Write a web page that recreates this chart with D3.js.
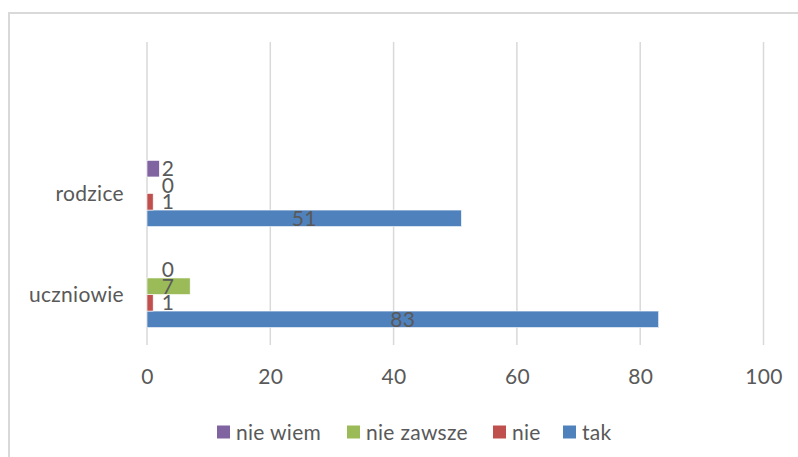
<!DOCTYPE html>
<html>
<head>
<meta charset="utf-8">
<script src="https://cdn.jsdelivr.net/npm/d3@7"></script>
<style>
  html, body { margin: 0; padding: 0; background: #fff; }
  svg { display: block; }
  text { font-family: Lato, "Open Sans", sans-serif; fill: #595959; }
</style>
</head>
<body>
<svg id="chart" width="798" height="457"></svg>
<script>
// Survey answers, per group of respondents
const categories = ["uczniowie", "rodzice"];
const seriesNames = ["tak", "nie", "nie zawsze", "nie wiem"];
const takValues = [83, 51];
const nieValues = [1, 1];
const nieZawszeValues = [7, 0];
const nieWiemValues = [0, 2];
const xTicks = [0, 20, 40, 60, 80, 100];
const legendOrder = ["nie wiem", "nie zawsze", "nie", "tak"];

const colors = {
  "tak": "#4f81bd",
  "nie": "#c0504d",
  "nie zawsze": "#9bbb59",
  "nie wiem": "#8064a2"
};

const seriesValues = {
  "tak": takValues,
  "nie": nieValues,
  "nie zawsze": nieZawszeValues,
  "nie wiem": nieWiemValues
};

const fontSize = 21;
const spacing = "0.3px";

const svg = d3.select("#chart");

// chart frame
svg.append("path")
  .attr("d", "M9,457 V13 H798")
  .attr("fill", "none")
  .attr("stroke", "#d9d9d9")
  .attr("stroke-width", 2);

const plot = { left: 147, right: 763.5, top: 42, bottom: 345 };
// category axis leaves room for three slots; the top one is empty
const slots = 3;
const step = (plot.bottom - plot.top) / slots;

const x = d3.scaleLinear().domain([0, 100]).range([plot.left, plot.right]);

const y = d3.scaleBand()
  .domain(categories)
  .range([plot.bottom, plot.bottom - step * categories.length])
  .paddingInner(0.345)
  .paddingOuter(0.345 / 2);

// series stacked top-to-bottom: nie wiem, nie zawsze, nie, tak
const inner = d3.scaleBand()
  .domain(seriesNames.slice().reverse())
  .range([0, y.bandwidth()]);

// vertical gridlines
svg.append("g")
  .selectAll("line")
  .data(xTicks)
  .join("line")
  .attr("x1", d => x(d)).attr("x2", d => x(d))
  .attr("y1", plot.top).attr("y2", plot.bottom)
  .attr("stroke", "#d9d9d9")
  .attr("stroke-width", 1.5);

// value axis labels
const xAxis = d3.axisBottom(x).tickValues(xTicks).tickSize(0).tickPadding(0);
const gx = svg.append("g")
  .attr("transform", `translate(0,${plot.bottom + 39})`)
  .call(xAxis);
gx.select(".domain").remove();
gx.selectAll("text")
  .attr("font-size", fontSize)
  .attr("dy", 0)
  .style("font-family", "Lato, sans-serif")
  .style("letter-spacing", spacing)
  .attr("fill", "#595959");

// category labels
const yAxis = d3.axisLeft(y).tickSize(0).tickPadding(0);
const gy = svg.append("g")
  .attr("transform", `translate(124,0)`)
  .call(yAxis);
gy.select(".domain").remove();
gy.selectAll("text")
  .attr("font-size", fontSize)
  .attr("dy", "0.35em")
  .style("font-family", "Lato, sans-serif")
  .style("letter-spacing", spacing)
  .attr("fill", "#595959");

// bars and their labels
const rows = [];
categories.forEach((c, i) => {
  seriesNames.forEach(s => {
    rows.push({ category: c, series: s, value: seriesValues[s][i] });
  });
});

svg.append("g")
  .selectAll("rect")
  .data(rows)
  .join("rect")
  .attr("x", x(0))
  .attr("y", d => y(d.category) + inner(d.series))
  .attr("width", d => x(d.value) - x(0))
  .attr("height", inner.bandwidth())
  .attr("fill", d => colors[d.series])
  .attr("stroke", "#ffffff")
  .attr("stroke-width", 0.6);

svg.append("g")
  .selectAll("text")
  .data(rows)
  .join("text")
  .attr("x", d => d.series === "tak" ? (x(0) + x(d.value)) / 2 : x(0) + 21)
  .attr("y", d => y(d.category) + inner(d.series) + inner.bandwidth() / 2)
  .attr("dy", "0.36em")
  .attr("text-anchor", "middle")
  .attr("font-size", fontSize)
  .style("letter-spacing", spacing)
  .attr("fill", "#404040")
  .text(d => d.value);

// legend
const legendY = 432;
const legendX = [217, 347, 493, 563];
const lg = svg.append("g")
  .selectAll("g")
  .data(legendOrder)
  .join("g")
  .attr("transform", (d, i) => `translate(${legendX[i]},${legendY})`);
lg.append("rect")
  .attr("x", 0).attr("y", -6.5)
  .attr("width", 13).attr("height", 13)
  .attr("fill", d => colors[d]);
lg.append("text")
  .attr("x", 19)
  .attr("dy", "0.36em")
  .attr("font-size", fontSize)
  .style("letter-spacing", spacing)
  .text(d => d);
</script>
</body>
</html>
